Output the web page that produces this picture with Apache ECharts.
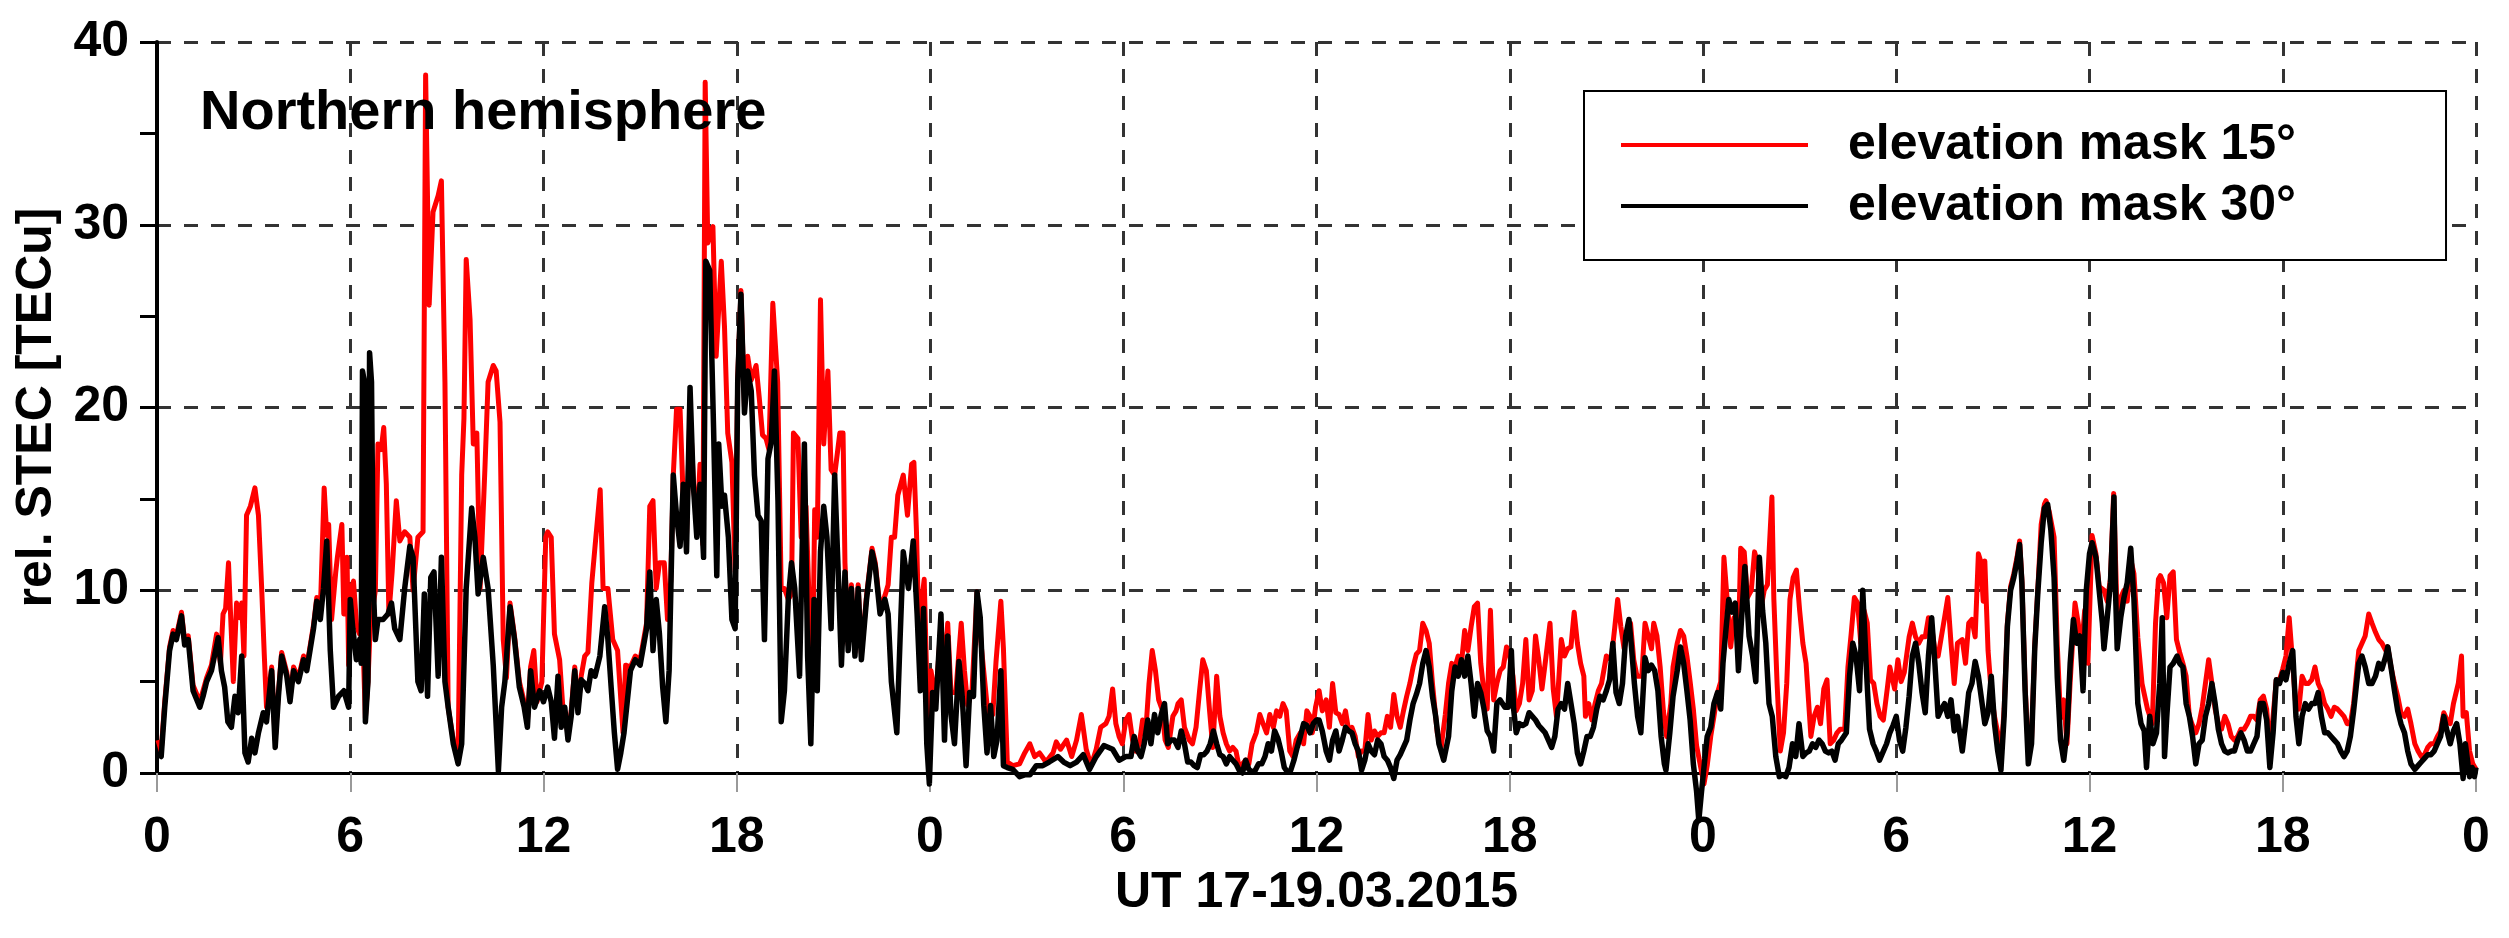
<!DOCTYPE html>
<html>
<head>
<meta charset="utf-8">
<script src="https://cdn.jsdelivr.net/npm/echarts@6/dist/echarts.min.js"></script>
<style>
html,body{margin:0;padding:0;background:#fff;}
#chart{width:2509px;height:938px;}
</style>
</head>
<body>
<div id="chart"></div>
<script>
// hours since 17.03.2015 00 UT, relative STEC in TECu
const mask30 = [
[0.03,1.1],[0.13,0.9],[0.24,3.6],[0.39,6.7],[0.5,7.6],[0.6,7.3],[0.76,8.6],[0.86,7.0],[0.97,7.3],[1.12,4.5],[1.33,3.6],[1.43,4.2],[1.54,5.0],[1.69,5.6],[1.9,7.4],[2.0,5.6],[2.1,4.7],[2.2,2.8],[2.31,2.5],[2.42,4.2],[2.52,3.3],[2.63,6.4],[2.73,1.1],[2.83,0.6],[2.94,1.9],[3.04,1.1],[3.15,2.2],[3.3,3.3],[3.4,2.8],[3.56,5.6],[3.67,1.4],[3.77,4.2],[3.87,6.4],[4.03,5.3],[4.13,3.9],[4.24,5.6],[4.39,5.0],[4.55,6.2],[4.65,5.6],[4.75,6.7],[4.86,7.9],[4.96,9.4],[5.07,8.4],[5.17,10.1],[5.27,12.7],[5.38,6.7],[5.48,3.6],[5.64,4.2],[5.8,4.5],[5.95,3.6],
[6.0,9.5],[6.08,7.9],[6.19,6.2],[6.29,7.3],[6.34,6.0],[6.38,22.0],[6.43,21.5],[6.47,2.8],[6.55,5.0],[6.6,23.0],[6.66,21.4],[6.72,10.0],[6.78,7.3],[6.86,8.4],[7.02,8.4],[7.17,8.7],[7.28,9.3],[7.38,7.9],[7.54,7.3],[7.69,10.1],[7.85,12.4],[7.95,11.8],[8.1,5.0],[8.2,4.5],[8.3,9.8],[8.4,4.2],[8.5,10.7],[8.6,11.0],[8.73,5.3],[8.83,11.8],[8.94,5.0],[9.04,3.6],[9.2,1.6],[9.35,0.5],[9.46,1.6],[9.6,10.1],[9.77,14.5],[9.87,12.9],[9.97,9.8],[10.13,11.8],[10.28,10.1],[10.44,5.9],[10.6,0.1],[10.7,3.6],[10.8,5.0],[10.96,9.1],[11.1,7.3],[11.25,4.7],[11.4,3.6],[11.5,2.5],[11.6,5.6],[11.72,3.6],[11.88,4.5],
[12.0,3.9],[12.13,4.7],[12.24,3.9],[12.34,1.9],[12.45,5.3],[12.55,2.5],[12.66,3.6],[12.76,1.8],[12.86,3.1],[12.97,5.6],[13.07,3.3],[13.17,5.1],[13.28,4.9],[13.38,4.5],[13.48,5.6],[13.6,5.3],[13.75,6.4],[13.9,9.1],[14.0,7.3],[14.1,4.7],[14.2,2.2],[14.3,0.2],[14.4,1.1],[14.5,2.2],[14.6,3.9],[14.7,5.6],[14.85,6.2],[15.0,5.9],[15.2,7.9],[15.3,11.0],[15.4,6.7],[15.5,9.5],[15.6,7.6],[15.7,4.7],[15.8,2.8],[15.9,5.6],[16.03,16.3],[16.13,14.1],[16.24,12.4],[16.34,15.8],[16.44,12.1],[16.55,21.1],[16.65,15.8],[16.76,12.9],[16.86,15.8],[16.97,11.8],[17.04,28.0],[17.16,27.5],[17.28,18.9],[17.38,10.8],[17.44,18.0],[17.54,14.6],[17.62,15.2],[17.74,12.9],[17.85,8.4],[17.95,7.9],
[18.03,21.4],[18.13,26.2],[18.24,19.7],[18.34,22.0],[18.45,20.9],[18.55,16.3],[18.66,14.1],[18.76,13.8],[18.86,7.3],[18.97,17.2],[19.07,18.1],[19.17,22.0],[19.28,14.9],[19.38,2.8],[19.48,4.5],[19.6,9.5],[19.7,11.5],[19.8,10.1],[19.95,5.3],[20.1,18.0],[20.2,6.4],[20.3,1.6],[20.4,9.5],[20.5,4.5],[20.6,12.1],[20.7,14.6],[20.8,12.9],[20.93,7.9],[21.04,16.3],[21.14,11.5],[21.25,5.9],[21.36,11.0],[21.46,6.7],[21.56,10.1],[21.67,6.4],[21.77,10.1],[21.87,6.2],[22.03,9.5],[22.2,12.1],[22.3,11.3],[22.45,8.7],[22.6,9.5],[22.7,8.7],[22.8,5.0],[22.97,2.2],[23.07,7.3],[23.17,12.1],[23.33,10.1],[23.48,12.7],[23.6,8.7],[23.7,4.5],[23.8,9.0],[23.9,1.6],[23.98,-0.6],[24.08,4.4],
[24.18,3.5],[24.34,8.7],[24.45,1.8],[24.55,7.5],[24.65,3.2],[24.76,1.6],[24.9,6.1],[25.0,4.2],[25.12,0.4],[25.23,4.4],[25.35,4.2],[25.46,9.9],[25.56,8.5],[25.67,3.7],[25.77,1.1],[25.88,3.7],[25.98,0.9],[26.08,1.8],[26.2,5.6],[26.28,0.4],[26.4,0.3],[26.57,0.2],[26.78,-0.2],[26.94,-0.1],[27.1,-0.1],[27.3,0.4],[27.5,0.4],[27.7,0.6],[27.97,0.9],[28.15,0.6],[28.35,0.4],[28.55,0.6],[28.76,1.0],[28.95,0.2],[29.16,0.9],[29.4,1.5],[29.67,1.3],[29.87,0.7],[30.08,0.9],
[30.24,0.9],[30.34,2.0],[30.45,1.2],[30.55,0.9],[30.65,1.6],[30.76,2.9],[30.86,1.6],[30.97,3.2],[31.07,2.2],[31.18,3.2],[31.28,3.8],[31.38,1.6],[31.49,1.8],[31.59,1.8],[31.7,1.4],[31.8,2.3],[31.9,1.6],[32.0,0.6],[32.1,0.6],[32.2,0.4],[32.3,0.3],[32.4,1.0],[32.5,1.0],[32.6,1.2],[32.7,1.6],[32.8,2.3],[32.9,1.6],[33.0,1.0],[33.1,0.9],[33.2,0.5],[33.3,0.9],[33.4,0.7],[33.5,0.5],[33.6,0.15],[33.7,0.0],[33.8,0.7],[33.9,0.2],[34.0,0.05],[34.1,0.15],[34.2,0.5],[34.3,0.5],[34.4,0.9],[34.5,1.6],[34.6,1.2],[34.7,2.3],[34.8,1.9],[34.9,1.2],[35.0,0.3],[35.1,0.05],[35.2,0.15],[35.3,0.7],[35.4,1.4],[35.5,2.0],[35.6,2.7],[35.7,2.6],[35.8,2.2],[35.9,2.7],[36.0,2.9],
[36.08,2.9],[36.18,2.3],[36.3,1.2],[36.4,0.7],[36.5,1.8],[36.6,2.3],[36.7,1.2],[36.8,1.8],[36.9,2.5],[37.0,2.3],[37.1,2.2],[37.2,1.6],[37.3,1.2],[37.4,0.15],[37.5,0.7],[37.6,1.6],[37.7,1.2],[37.8,1.0],[37.9,1.8],[38.0,1.6],[38.1,0.9],[38.2,0.7],[38.3,0.3],[38.4,-0.3],[38.5,0.7],[38.6,1.0],[38.7,1.4],[38.8,1.8],[38.9,2.9],[39.0,3.8],[39.1,4.3],[39.2,4.9],[39.3,6.0],[39.4,6.7],[39.5,5.8],[39.6,4.2],[39.7,3.1],[39.8,1.6],[39.95,0.7],[40.1,2.0],[40.2,4.5],[40.3,5.8],[40.4,5.3],[40.5,6.2],[40.6,5.3],[40.7,6.4],[40.8,4.9],[40.9,3.1],[41.0,4.9],[41.1,4.4],[41.2,3.5],[41.3,2.3],[41.4,2.0],[41.5,1.2],[41.6,3.8],[41.7,4.0],[41.85,3.6],[41.95,3.6],
[42.05,6.7],[42.12,3.5],[42.2,2.2],[42.3,2.7],[42.4,2.6],[42.5,2.7],[42.6,3.3],[42.7,3.1],[42.8,2.9],[42.9,2.6],[43.0,2.4],[43.1,2.2],[43.2,1.8],[43.3,1.4],[43.4,2.0],[43.5,3.5],[43.6,3.8],[43.7,3.5],[43.8,4.9],[43.9,3.8],[44.0,2.7],[44.1,1.1],[44.2,0.5],[44.3,1.2],[44.4,2.0],[44.5,2.0],[44.6,2.5],[44.7,3.5],[44.8,4.2],[44.9,4.0],[45.0,4.5],[45.1,5.1],[45.2,7.1],[45.3,4.4],[45.4,3.8],[45.5,4.9],[45.6,7.5],[45.7,8.4],[45.77,7.1],[45.87,4.9],[45.97,3.1],[46.07,2.2],[46.2,6.3],[46.3,5.6],[46.4,5.9],[46.5,5.6],[46.6,4.5],[46.7,2.0],[46.8,0.5],[46.85,0.15],[46.97,2.2],[47.07,4.2],[47.2,5.6],[47.3,6.9],[47.4,6.0],[47.5,4.5],[47.6,2.9],[47.7,0.5],[47.8,-1.0],[47.87,-2.6],[47.95,-1.1],
[48.03,0.3],[48.13,2.0],[48.24,2.5],[48.34,3.8],[48.45,4.4],[48.55,3.5],[48.62,6.0],[48.7,7.6],[48.8,9.5],[48.9,8.8],[49.0,9.3],[49.1,5.6],[49.2,8.5],[49.3,11.3],[49.43,7.5],[49.54,6.4],[49.64,5.0],[49.75,11.8],[49.85,8.9],[49.95,7.1],[50.05,3.8],[50.15,3.1],[50.26,0.9],[50.37,-0.2],[50.47,-0.1],[50.57,-0.2],[50.67,0.3],[50.78,1.6],[50.88,0.9],[50.98,2.7],[51.1,0.9],[51.2,1.1],[51.3,1.2],[51.4,1.6],[51.5,1.4],[51.6,1.8],[51.7,1.6],[51.8,1.2],[51.9,1.1],[52.0,1.2],[52.1,0.7],[52.2,1.6],[52.3,1.8],[52.45,2.2],[52.55,5.3],[52.65,7.1],[52.75,6.4],[52.86,4.5],[52.96,10.0],[53.07,5.8],[53.17,2.4],[53.28,1.6],[53.38,1.2],[53.48,0.7],[53.6,1.2],[53.7,1.6],[53.8,2.2],[53.9,2.6],[54.0,3.1],
[54.1,1.8],[54.2,1.2],[54.3,2.5],[54.4,4.2],[54.5,6.4],[54.6,7.1],[54.7,6.0],[54.8,4.4],[54.9,3.3],[55.0,6.4],[55.1,8.5],[55.2,6.0],[55.3,3.1],[55.4,3.5],[55.5,3.8],[55.6,3.1],[55.7,4.0],[55.8,2.3],[55.9,3.1],[56.05,1.2],[56.15,2.7],[56.25,4.4],[56.35,4.9],[56.45,6.1],[56.55,5.3],[56.65,4.0],[56.75,2.7],[56.85,3.3],[56.95,5.3],[57.05,2.7],[57.15,1.2],[57.25,0.15],[57.35,3.1],[57.45,8.0],[57.55,10.0],[57.65,10.7],[57.75,11.6],[57.83,12.5],[57.9,10.4],[58.0,4.5],[58.1,0.5],[58.2,1.6],[58.3,6.8],[58.4,10.0],[58.5,12.6],[58.6,14.5],[58.7,14.7],[58.8,13.3],[58.9,10.7],[59.0,5.2],[59.1,1.8],[59.2,0.7],[59.3,2.2],[59.4,6.0],[59.5,8.4],[59.6,7.1],[59.7,7.5],[59.8,4.5],[59.9,10.0],[60.0,12.0],
[60.08,12.6],[60.2,11.8],[60.3,10.0],[60.4,8.2],[60.45,6.8],[60.55,8.5],[60.65,10.4],[60.76,15.1],[60.8,10.4],[60.86,6.8],[60.97,8.5],[61.07,9.6],[61.17,10.4],[61.28,12.3],[61.38,9.5],[61.5,3.8],[61.6,2.7],[61.7,2.3],[61.77,0.3],[61.87,3.1],[61.97,1.6],[62.08,2.2],[62.18,4.9],[62.26,8.5],[62.33,0.9],[62.4,3.1],[62.5,5.8],[62.6,6.0],[62.72,6.4],[62.8,6.0],[62.9,5.8],[63.0,3.8],[63.1,3.1],[63.2,2.0],[63.3,0.5],[63.4,1.6],[63.5,1.8],[63.6,3.1],[63.7,3.8],[63.8,4.9],[63.9,3.8],[64.0,2.4],[64.1,1.6],[64.2,1.2],[64.3,1.1],[64.4,1.2],[64.5,1.2],[64.6,1.8],[64.7,2.2],[64.8,1.8],[64.9,1.2],[65.0,1.2],[65.1,1.6],[65.2,2.0],[65.3,3.8],[65.4,3.8],[65.5,2.9],[65.6,0.3],[65.7,2.2],[65.8,5.1],[65.9,4.9],[66.0,5.5],
[66.1,5.1],[66.2,6.0],[66.31,6.7],[66.41,3.1],[66.5,1.6],[66.6,3.1],[66.7,3.8],[66.8,3.5],[66.9,3.8],[67.0,3.8],[67.1,4.4],[67.2,3.1],[67.3,2.2],[67.4,2.2],[67.5,2.0],[67.6,1.8],[67.7,1.6],[67.8,1.2],[67.9,0.9],[68.0,1.2],[68.1,2.0],[68.2,3.4],[68.36,6.0],[68.46,6.4],[68.56,5.8],[68.67,4.9],[68.77,4.9],[68.88,5.3],[68.98,6.0],[69.08,5.7],[69.2,6.4],[69.26,6.9],[69.36,5.8],[69.47,4.5],[69.57,3.4],[69.67,2.7],[69.78,2.2],[69.88,1.2],[69.98,0.5],[70.1,0.2],[70.2,0.4],[70.3,0.6],[70.4,0.8],[70.5,1.0],[70.6,1.0],[70.7,1.2],[70.8,1.6],[70.9,2.0],[71.0,3.1],[71.1,2.3],[71.2,1.6],[71.3,2.3],[71.4,2.7],[71.5,1.6],[71.6,-0.3],[71.67,1.6],[71.75,0.5],[71.8,-0.2],[71.88,0.3],[71.95,-0.2],[72.0,0.3]
];

const mask15 = [
[0.03,1.8],[0.13,1.2],[0.24,3.9],[0.39,6.9],[0.5,7.8],[0.6,7.5],[0.76,8.8],[0.86,7.2],[0.97,7.5],[1.12,4.8],[1.33,3.9],[1.43,4.5],[1.54,5.2],[1.69,5.9],[1.85,7.6],[1.97,6.0],[2.05,8.7],[2.13,9.0],[2.22,11.5],[2.3,8.0],[2.37,5.0],[2.47,9.3],[2.57,8.5],[2.63,9.3],[2.7,6.4],[2.78,14.1],[2.9,14.6],[3.04,15.6],[3.15,14.1],[3.25,10.1],[3.33,6.5],[3.4,3.6],[3.56,5.8],[3.67,1.8],[3.77,4.4],[3.87,6.6],[4.03,5.5],[4.13,4.1],[4.24,5.8],[4.39,5.2],[4.55,6.4],[4.65,5.8],[4.75,6.9],[4.86,8.1],[4.96,9.6],[5.07,8.8],[5.19,15.6],[5.27,13.0],[5.33,13.6],[5.42,8.4],[5.55,11.0],[5.6,11.8],[5.74,13.6],[5.8,8.7],[5.9,11.8],[5.95,5.9],[6.03,10.1],
[6.1,10.5],[6.2,8.0],[6.29,7.6],[6.38,8.0],[6.47,3.0],[6.55,5.0],[6.62,8.0],[6.7,9.0],[6.78,10.0],[6.86,18.0],[6.96,17.7],[7.04,18.9],[7.12,15.8],[7.2,8.7],[7.3,11.0],[7.43,14.9],[7.54,12.7],[7.69,13.2],[7.85,12.9],[7.95,10.0],[8.1,12.9],[8.26,13.2],[8.34,38.2],[8.45,25.6],[8.57,30.7],[8.73,31.6],[8.83,32.4],[8.94,21.4],[9.04,3.6],[9.2,1.8],[9.35,1.1],[9.46,16.3],[9.53,19.4],[9.6,28.1],[9.72,24.8],[9.82,18.0],[9.93,18.6],[10.03,10.1],[10.18,16.6],[10.28,21.4],[10.44,22.3],[10.53,22.0],[10.65,19.2],[10.75,7.3],[10.85,5.2],[10.96,9.3],[11.1,7.5],[11.25,5.0],[11.4,3.9],[11.5,2.8],[11.6,5.8],[11.7,6.7],[11.8,3.9],[11.95,5.0],[12.07,12.9],
[12.13,13.2],[12.24,12.9],[12.34,7.6],[12.5,6.2],[12.6,3.6],[12.7,3.0],[12.76,2.0],[12.86,3.4],[12.97,5.8],[13.07,3.5],[13.17,5.3],[13.28,6.4],[13.38,6.6],[13.5,10.4],[13.6,12.4],[13.76,15.5],[13.85,10.1],[14.0,10.1],[14.15,7.3],[14.3,6.7],[14.47,2.2],[14.55,5.9],[14.7,5.8],[14.85,6.4],[15.0,6.2],[15.2,8.2],[15.3,14.6],[15.4,14.9],[15.5,10.1],[15.6,11.5],[15.75,11.5],[15.85,8.4],[15.95,10.5],[16.03,16.3],[16.13,19.9],[16.24,19.9],[16.34,14.9],[16.44,13.0],[16.55,19.9],[16.65,16.0],[16.76,13.5],[16.86,16.9],[16.95,12.5],[17.02,37.8],[17.1,29.0],[17.26,29.9],[17.36,22.8],[17.52,28.0],[17.62,24.4],[17.72,18.6],[17.85,17.0],[17.95,11.0],
[18.03,21.6],[18.13,26.4],[18.24,20.0],[18.34,22.8],[18.45,21.5],[18.6,22.3],[18.7,20.5],[18.8,18.5],[18.91,18.3],[19.0,17.7],[19.12,25.7],[19.27,21.4],[19.38,10.1],[19.48,10.1],[19.6,9.5],[19.7,9.8],[19.76,18.6],[19.9,18.3],[20.0,12.9],[20.15,14.6],[20.26,8.7],[20.35,5.0],[20.42,14.4],[20.5,12.9],[20.6,25.9],[20.7,18.0],[20.83,22.0],[20.93,16.6],[21.04,16.3],[21.2,18.6],[21.3,18.6],[21.36,11.5],[21.46,7.0],[21.56,10.3],[21.67,6.6],[21.77,10.3],[21.87,6.5],[22.03,9.7],[22.2,12.3],[22.3,11.5],[22.45,9.0],[22.6,9.7],[22.7,10.3],[22.8,12.9],[22.9,12.9],[23.0,15.2],[23.17,16.3],[23.3,14.1],[23.43,16.9],[23.5,17.0],[23.58,13.2],[23.65,8.0],[23.82,10.6],[23.93,3.0],[24.03,5.6],
[24.18,4.0],[24.34,8.2],[24.45,5.6],[24.55,8.2],[24.65,4.4],[24.8,4.4],[24.97,8.2],[25.07,5.6],[25.17,3.7],[25.3,4.4],[25.46,9.9],[25.6,6.8],[25.8,3.2],[25.95,3.2],[26.05,6.1],[26.2,9.4],[26.28,6.8],[26.4,0.6],[26.57,0.4],[26.78,0.5],[26.94,1.1],[27.1,1.6],[27.25,0.9],[27.4,1.1],[27.6,0.6],[27.82,1.1],[27.92,1.7],[28.05,1.3],[28.24,1.8],[28.4,0.9],[28.55,1.8],[28.7,3.2],[28.85,1.3],[29.0,0.4],[29.16,1.3],[29.3,2.5],[29.46,2.7],[29.56,3.1],[29.67,4.6],[29.77,2.7],[29.87,2.0],[29.97,1.6],[30.08,2.9],[30.18,3.2],
[30.29,1.8],[30.39,1.2],[30.5,1.6],[30.6,2.9],[30.7,2.3],[30.8,4.9],[30.9,6.7],[31.0,5.6],[31.1,4.0],[31.2,3.5],[31.3,1.8],[31.4,1.4],[31.54,3.1],[31.64,3.4],[31.7,3.8],[31.8,4.0],[31.9,2.5],[32.05,1.8],[32.15,1.6],[32.26,2.5],[32.37,4.5],[32.47,6.2],[32.58,5.6],[32.68,3.4],[32.78,1.4],[32.9,5.3],[33.0,3.1],[33.1,2.2],[33.2,1.6],[33.3,1.2],[33.4,1.4],[33.5,1.2],[33.6,0.3],[33.7,0.5],[33.8,0.7],[33.9,0.5],[34.0,1.6],[34.13,2.2],[34.24,3.2],[34.34,2.7],[34.45,2.2],[34.55,3.2],[34.66,2.5],[34.76,3.4],[34.86,3.1],[34.96,3.8],[35.06,3.4],[35.17,1.2],[35.27,0.9],[35.37,1.8],[35.5,2.2],[35.6,1.6],[35.7,3.4],[35.8,3.1],[35.87,2.2],[35.97,3.6],[36.08,4.5],
[36.18,3.4],[36.3,4.0],[36.4,2.5],[36.5,4.9],[36.6,3.3],[36.7,3.2],[36.8,2.7],[36.9,3.4],[37.0,2.3],[37.1,2.5],[37.2,2.0],[37.3,0.9],[37.4,1.2],[37.5,1.2],[37.6,3.2],[37.7,1.8],[37.8,2.3],[37.9,2.0],[38.0,2.2],[38.1,2.2],[38.2,3.1],[38.3,2.5],[38.4,4.3],[38.5,3.1],[38.6,2.5],[38.7,3.4],[38.8,4.2],[38.9,4.9],[39.0,5.8],[39.1,6.5],[39.2,6.7],[39.3,8.2],[39.4,7.8],[39.5,7.1],[39.6,4.9],[39.75,2.2],[39.87,1.4],[40.0,3.2],[40.1,4.9],[40.2,6.0],[40.3,5.8],[40.4,6.4],[40.5,6.0],[40.6,7.8],[40.7,6.7],[40.8,8.0],[40.9,9.1],[41.0,9.3],[41.1,6.0],[41.2,4.4],[41.3,3.5],[41.4,8.9],[41.5,4.0],[41.6,4.9],[41.7,5.6],[41.8,5.8],[41.9,6.9],[42.0,6.4],
[42.1,5.3],[42.2,3.4],[42.3,3.8],[42.4,4.9],[42.5,7.3],[42.6,4.0],[42.7,4.5],[42.8,7.5],[42.9,6.2],[43.0,4.6],[43.1,6.0],[43.25,8.2],[43.35,4.6],[43.45,3.1],[43.6,7.3],[43.7,6.4],[43.8,6.8],[43.9,6.9],[44.0,8.8],[44.1,7.1],[44.2,6.0],[44.3,5.3],[44.35,3.1],[44.45,3.8],[44.55,2.9],[44.65,3.8],[44.75,4.5],[44.85,4.9],[45.0,6.4],[45.15,6.2],[45.25,7.8],[45.35,9.5],[45.45,8.0],[45.55,6.8],[45.65,7.5],[45.75,8.2],[45.85,6.2],[45.95,5.3],[46.1,5.3],[46.2,8.2],[46.3,7.5],[46.4,6.8],[46.47,8.2],[46.57,7.5],[46.67,5.8],[46.77,3.4],[46.87,2.0],[47.0,3.8],[47.07,5.8],[47.2,7.1],[47.3,7.8],[47.4,7.5],[47.5,6.4],[47.6,5.0],[47.7,3.5],[47.8,1.5],[47.93,0.3],[48.03,-0.6],[48.13,0.4],[48.24,2.0],
[48.34,3.1],[48.45,4.4],[48.55,5.0],[48.65,11.8],[48.75,9.5],[48.86,6.9],[48.96,8.5],[49.05,8.5],[49.1,7.1],[49.17,12.3],[49.28,12.1],[49.38,9.6],[49.5,10.0],[49.6,12.1],[49.7,11.5],[49.8,9.0],[49.9,10.0],[50.0,10.3],[50.14,15.1],[50.2,9.5],[50.3,4.9],[50.4,1.2],[50.5,2.2],[50.6,4.9],[50.7,9.5],[50.8,10.7],[50.9,11.1],[51.0,8.9],[51.1,7.1],[51.2,6.0],[51.35,2.0],[51.45,3.1],[51.55,3.6],[51.65,2.7],[51.75,4.6],[51.85,5.1],[51.95,1.6],[52.06,1.8],[52.16,2.2],[52.26,2.4],[52.4,2.4],[52.5,5.8],[52.6,7.6],[52.7,9.6],[52.8,9.3],[52.9,7.1],[53.0,8.9],[53.1,8.2],[53.2,5.1],[53.3,4.9],[53.4,3.8],[53.5,3.1],[53.6,2.9],[53.72,4.6],[53.8,5.8],[53.95,4.6],[54.05,6.2],[54.15,5.0],
[54.25,5.5],[54.4,7.45],[54.5,8.2],[54.6,7.45],[54.7,7.1],[54.8,7.45],[54.9,7.45],[55.0,8.5],[55.1,8.0],[55.2,6.7],[55.3,6.4],[55.4,7.45],[55.5,8.5],[55.6,9.6],[55.7,7.1],[55.8,4.9],[55.9,7.1],[56.05,7.3],[56.15,6.0],[56.25,8.2],[56.35,8.4],[56.45,7.45],[56.55,12.0],[56.62,11.6],[56.7,9.4],[56.75,11.6],[56.85,6.7],[56.95,4.4],[57.05,3.1],[57.15,2.2],[57.25,0.9],[57.35,3.5],[57.45,8.2],[57.55,10.2],[57.65,10.9],[57.75,11.8],[57.83,12.7],[57.9,10.6],[58.0,4.8],[58.1,1.2],[58.2,1.8],[58.3,7.0],[58.4,10.2],[58.5,13.6],[58.6,14.7],[58.65,14.9],[58.75,14.3],[58.9,12.9],[59.0,7.0],[59.1,3.0],[59.2,4.0],[59.3,1.6],[59.4,5.0],[59.55,9.3],[59.65,8.2],[59.75,6.7],[59.85,8.9],[59.95,6.0],
[60.08,13.0],[60.2,12.0],[60.3,10.2],[60.45,10.0],[60.55,9.4],[60.65,10.6],[60.75,15.3],[60.86,8.5],[60.97,9.6],[61.07,10.0],[61.17,9.4],[61.28,11.7],[61.38,10.9],[61.5,7.4],[61.63,4.9],[61.8,3.5],[61.95,2.7],[62.05,8.2],[62.14,10.6],[62.2,10.8],[62.3,10.4],[62.4,8.5],[62.5,10.8],[62.6,11.0],[62.7,7.3],[62.8,6.6],[62.9,6.0],[63.0,5.3],[63.1,3.1],[63.2,2.6],[63.3,2.2],[63.4,2.7],[63.5,3.6],[63.6,4.9],[63.7,6.2],[63.8,4.9],[63.9,3.5],[64.0,2.7],[64.1,2.4],[64.2,3.1],[64.3,2.7],[64.4,2.0],[64.5,1.8],[64.6,2.0],[64.7,2.4],[64.8,2.4],[64.9,2.7],[65.0,3.1],[65.1,3.1],[65.2,2.9],[65.3,4.0],[65.4,4.2],[65.5,3.5],[65.6,1.2],[65.7,3.1],[65.8,5.1],[65.9,5.1],[66.0,5.7],
[66.1,6.4],[66.2,8.5],[66.3,6.2],[66.4,3.8],[66.5,3.5],[66.6,5.3],[66.7,4.9],[66.8,4.9],[66.9,5.1],[67.0,5.8],[67.1,4.9],[67.2,4.5],[67.3,3.8],[67.4,3.5],[67.5,3.1],[67.6,3.6],[67.7,3.5],[67.8,3.3],[67.9,3.1],[68.0,2.7],[68.1,2.7],[68.2,3.8],[68.36,6.7],[68.46,7.1],[68.56,7.5],[68.67,8.7],[68.77,8.2],[68.88,7.7],[68.98,7.3],[69.08,7.1],[69.2,6.7],[69.26,6.9],[69.36,5.8],[69.47,4.9],[69.57,4.2],[69.67,3.3],[69.78,3.1],[69.88,3.5],[69.98,2.7],[70.1,1.6],[70.2,1.2],[70.3,0.9],[70.4,1.0],[70.5,1.4],[70.6,1.6],[70.7,1.6],[70.8,2.0],[70.9,2.3],[71.0,3.3],[71.1,2.9],[71.2,2.7],[71.3,3.8],[71.45,4.9],[71.55,6.4],[71.6,3.1],[71.7,3.3],[71.8,1.2],[71.9,0.5],[72.0,0.2]
];

const seriesNames = ['elevation mask 15°', 'elevation mask 30°'];
const xTickHours = [0, 6, 12, 18, 24, 30, 36, 42, 48, 54, 60, 66, 72];
const yTicks = [0, 10, 20, 30, 40];
const titleText = 'Northern hemisphere';
const xAxisTitle = 'UT 17-19.03.2015';
const yAxisTitle = 'rel. STEC [TECu]';

const FONT = '"Liberation Sans", Arial, sans-serif';
const chart = echarts.init(document.getElementById('chart'), null, {renderer: 'canvas'});
const option = {
  animation: false,
  backgroundColor: '#fff',
  title: {
    text: titleText,
    left: 200, top: 86, padding: 0,
    textStyle: {fontFamily: FONT, fontWeight: 'bold', fontSize: 56, color: '#000', lineHeight: 56}
  },
  legend: {
    orient: 'vertical',
    left: 1584, top: 91,
    padding: [29, 150, 29, 37],
    itemGap: 11,
    itemWidth: 187, itemHeight: 4,
    icon: 'rect',
    backgroundColor: '#fff',
    borderColor: '#000', borderWidth: 2,
    textStyle: {fontFamily: FONT, fontWeight: 'bold', fontSize: 50, color: '#000', lineHeight: 50, padding: [0, 0, 0, 35]},
    data: seriesNames
  },
  grid: {left: 157, top: 42, right: 33, bottom: 165, containLabel: false},
  xAxis: {
    type: 'value', min: 0, max: 72, interval: 6,
    name: xAxisTitle, nameLocation: 'middle', nameGap: 94,
    nameTextStyle: {fontFamily: FONT, fontWeight: 'bold', fontSize: 50, color: '#000'},
    axisLine: {lineStyle: {color: '#000', width: 3}},
    axisTick: {show: true, length: 19, lineStyle: {color: '#999', width: 2}},
    axisLabel: {
      margin: 40, fontFamily: FONT, fontWeight: 'bold', fontSize: 50, color: '#000',
      formatter: v => xTickHours.indexOf(v) >= 0 ? String(v % 24) : ''
    },
    splitLine: {show: true, lineStyle: {color: '#333', width: 3, type: [14, 13]}}
  },
  yAxis: {
    type: 'value', min: 0, max: 40, interval: 10,
    name: yAxisTitle, nameLocation: 'middle', nameGap: 85, nameRotate: 90,
    nameTextStyle: {fontFamily: FONT, fontWeight: 'bold', fontSize: 50, color: '#000'},
    axisLine: {show: true, lineStyle: {color: '#000', width: 4}},
    axisTick: {show: true, length: 17, lineStyle: {color: '#000', width: 3}},
    minorTick: {show: true, splitNumber: 2, length: 17, lineStyle: {color: '#000', width: 3}},
    axisLabel: {
      margin: 28, fontFamily: FONT, fontWeight: 'bold', fontSize: 50, color: '#000',
      formatter: v => yTicks.indexOf(v) >= 0 ? String(v) : ''
    },
    splitLine: {show: true, lineStyle: {color: '#333', width: 3, type: [14, 13]}}
  },
  series: [
    {
      name: seriesNames[0], type: 'line', data: mask15, showSymbol: false, symbol: 'none',
      clip: false, color: '#ff0000',
      lineStyle: {color: '#ff0000', width: 5, join: 'round'}
    },
    {
      name: seriesNames[1], type: 'line', data: mask30, showSymbol: false, symbol: 'none',
      clip: false, color: '#000000',
      lineStyle: {color: '#000000', width: 5.5, join: 'round'}
    }
  ]
};
chart.setOption(option);
</script>
</body>
</html>
